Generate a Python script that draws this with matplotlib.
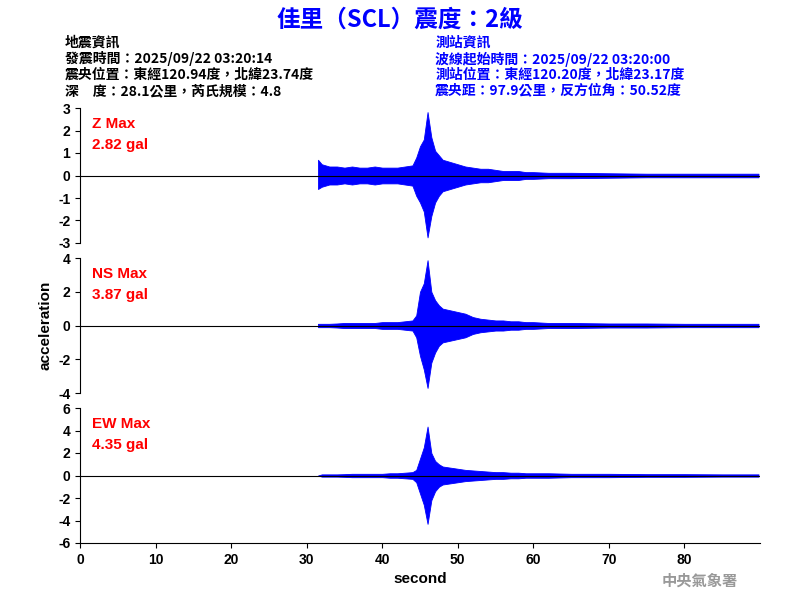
import matplotlib
matplotlib.use("Agg")
import matplotlib.pyplot as plt
import numpy as np

plt.rcParams['font.family'] = ['Noto Sans CJK TC', 'DejaVu Sans']

times = [31.5,32,33,34,35,36,37,38,39,40,41,42,43,44,44.5,45,45.5,46,46.5,47,47.5,48,
         49,50,51,52,53,54,55,56,57,58,59,60,62,65,70,75,80,85,89.8]
z_up = [0.7,0.5,0.4,0.4,0.35,0.4,0.35,0.35,0.4,0.35,0.35,0.35,0.4,0.45,0.8,1.3,1.6,2.82,1.7,1.1,0.9,0.7,
        0.6,0.5,0.4,0.35,0.3,0.3,0.25,0.2,0.2,0.2,0.15,0.15,0.12,0.12,0.1,0.08,0.08,0.08,0.08]
z_lo = [-0.6,-0.5,-0.4,-0.4,-0.35,-0.4,-0.35,-0.35,-0.4,-0.35,-0.35,-0.35,-0.4,-0.45,-0.9,-1.2,-1.6,-2.75,-1.8,-1.2,-0.9,-0.7,
        -0.6,-0.5,-0.4,-0.35,-0.3,-0.3,-0.25,-0.2,-0.2,-0.2,-0.15,-0.15,-0.12,-0.12,-0.1,-0.08,-0.08,-0.08,-0.08]
ns_up = [0.1,0.1,0.1,0.12,0.15,0.15,0.15,0.15,0.15,0.2,0.2,0.2,0.25,0.3,0.6,2.0,2.5,3.87,2.0,1.5,1.2,1.0,
         0.9,0.8,0.7,0.5,0.4,0.35,0.3,0.3,0.25,0.25,0.2,0.2,0.15,0.15,0.12,0.12,0.1,0.1,0.1]
ns_lo = [-0.1,-0.1,-0.1,-0.12,-0.15,-0.15,-0.15,-0.15,-0.15,-0.2,-0.2,-0.2,-0.25,-0.3,-0.7,-1.8,-2.6,-3.7,-2.2,-1.6,-1.2,-1.0,
         -0.9,-0.8,-0.7,-0.5,-0.4,-0.35,-0.3,-0.3,-0.25,-0.25,-0.2,-0.2,-0.15,-0.15,-0.12,-0.12,-0.1,-0.1,-0.1]
ew_up = [0.0,0.1,0.1,0.1,0.12,0.15,0.15,0.15,0.15,0.15,0.2,0.2,0.25,0.3,0.5,1.5,2.5,4.35,2.0,1.3,1.0,0.8,
         0.7,0.6,0.5,0.45,0.4,0.35,0.3,0.3,0.25,0.25,0.2,0.2,0.2,0.15,0.15,0.12,0.12,0.1,0.1]
ew_lo = [0.0,-0.1,-0.1,-0.1,-0.12,-0.15,-0.15,-0.15,-0.15,-0.15,-0.2,-0.2,-0.25,-0.3,-0.6,-1.6,-2.6,-4.3,-2.2,-1.4,-1.0,-0.8,
         -0.7,-0.6,-0.5,-0.45,-0.4,-0.35,-0.3,-0.3,-0.25,-0.25,-0.2,-0.2,-0.2,-0.15,-0.15,-0.12,-0.12,-0.1,-0.1]

panels = [("Z Max", "2.82 gal", z_up, z_lo, 3, [-3,-2,-1,0,1,2,3], 0.82, 0.595),
          ("NS Max", "3.87 gal", ns_up, ns_lo, 4, [-4,-2,0,2,4], 0.57, 0.345),
          ("EW Max", "4.35 gal", ew_up, ew_lo, 6, [-6,-4,-2,0,2,4,6], 0.32, 0.095)]

fig = plt.figure(figsize=(8, 6), dpi=100)
for i, (lab, val, up, lo, lim, ticks, top, bot) in enumerate(panels):
    ax = fig.add_axes([0.1, bot, 0.85, top - bot])
    ax.axhline(0, color='black', lw=0.8)
    ax.fill_between(times, lo, up, color='blue', lw=0.6, edgecolor='blue')
    ax.set_xlim(0, 90)
    ax.set_ylim(-lim, lim)
    ax.set_yticks(ticks)
    ax.set_yticklabels([str(t) for t in ticks], family='Liberation Sans', fontweight='bold')
    for s in ['top', 'right']:
        ax.spines[s].set_visible(False)
    ax.tick_params(labelsize=10)
    if i < 2:
        ax.spines['bottom'].set_visible(False)
        ax.set_xticks([])
    else:
        ax.set_xticks(range(0, 90, 10))
        ax.set_xticklabels([str(t) for t in range(0, 90, 10)], family='Liberation Sans', fontweight='bold')
        ax.set_xlabel("second", fontsize=11, fontweight='bold', family='Liberation Sans')
    ax.text(0.018, 0.93, lab, transform=ax.transAxes, color='red', fontsize=11,
            va='top', family='Liberation Sans', fontweight='bold')
    ax.text(0.018, 0.78, val, transform=ax.transAxes, color='red', fontsize=11,
            va='top', family='Liberation Sans', fontweight='bold')
    if i == 1:
        ax.set_ylabel("acceleration", fontsize=11, fontweight='bold', family='Liberation Sans')

fig.text(0.5, 0.967, "佳里（SCL）震度：2級", color='blue', fontsize=17, fontweight='bold',
         ha='center', va='center')
left = ["地震資訊", "發震時間：2025/09/22 03:20:14", "震央位置：東經120.94度，北緯23.74度",
        "深　度：28.1公里，芮氏規模：4.8"]
right = ["測站資訊", "波線起始時間：2025/09/22 03:20:00", "測站位置：東經120.20度，北緯23.17度",
         "震央距：97.9公里，反方位角：50.52度"]
for k, (l, r) in enumerate(zip(left, right)):
    y = 1 - (43 + 16 * k) / 600
    fig.text(0.081, y, l, color='black', fontsize=10, fontweight='bold', va='center')
    fig.text(0.544, y, r, color='blue', fontsize=10, fontweight='bold', va='center')
fig.text(0.875, 0.032, "中央氣象署", color='#999999', fontsize=11, fontweight='bold',
         ha='center', va='center')
fig.savefig("out.png", dpi=100)
